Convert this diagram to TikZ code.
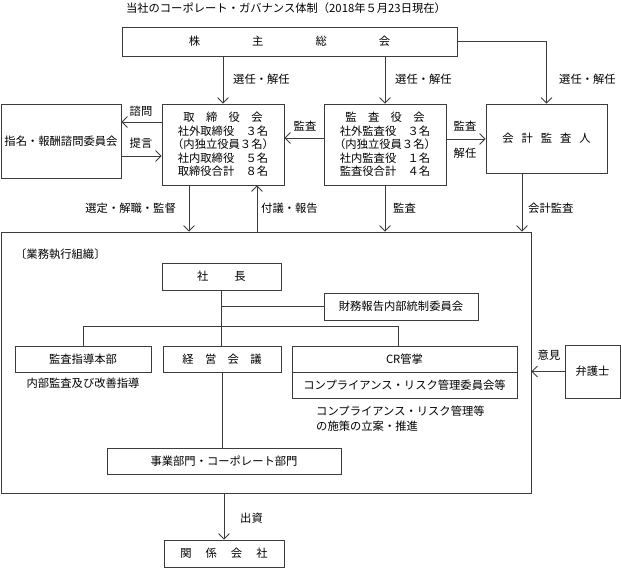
\documentclass[tikz,border=0pt]{standalone}
\usepackage{fontspec}
\setmainfont{Noto Sans CJK JP}
\usetikzlibrary{arrows.meta}
\definecolor{ln}{HTML}{3C3C3C}
\tikzset{
  box/.style={draw=ln, line width=0.8pt, inner sep=0pt, align=center},
  lbl/.style={inner sep=0pt},
  con/.style={draw=ln, line width=0.8pt},
  arr/.style={con, -{Straight Barb[length=5.5pt,width=11pt,line width=0.8pt]}},
}
\begin{document}
\begin{tikzpicture}[x=1pt, y=-1pt, font=\fontsize{11.3}{13.5}\selectfont]
\useasboundingbox (0,0) rectangle (621,568);
% title
\node[lbl] (title) at (286,8) {当社のコーポレート・ガバナンス体制（2018年５月23日現在）};
% top boxes
\node[box, minimum width=335pt, minimum height=29pt] (kabu) at (289.5,41.5) {株\hspace{52pt}主\hspace{52pt}総\hspace{52pt}会};
\node[box, minimum width=120pt, minimum height=74pt] (shimei) at (61,141) {指名・報酬諮問委員会};
\node[box, minimum width=122pt, minimum height=81pt] (tori) at (223,144.5) {取　締　役　会\\社外取締役　３名\\（内独立役員３名）\\社内取締役　５名\\取締役合計　８名};
\node[box, minimum width=122pt, minimum height=81pt] (kansa) at (385,144.5) {監　査　役　会\\社外監査役　３名\\（内独立役員３名）\\社内監査役　１名\\監査役合計　４名};
\node[box, minimum width=121pt, minimum height=69pt] (kaikei) at (546.5,138.5) {会\hspace{8pt}計\hspace{8pt}監\hspace{8pt}査\hspace{8pt}人};
% big box
\node[box, minimum width=530pt, minimum height=261pt] (big) at (266,362.5) {};
\node[lbl, anchor=west] (gyomu) at (15,254) {〔業務執行組織〕};
\node[box, minimum width=119pt, minimum height=27pt] (shacho) at (221.5,276.5) {社\hspace{26pt}長};
\node[box, minimum width=154pt, minimum height=27pt] (zaimu) at (401,306.5) {財務報告内部統制委員会};
\node[box, minimum width=136pt, minimum height=26pt] (kansashido) at (83,359) {監査指導本部};
\node[box, minimum width=118pt, minimum height=26pt] (keiei) at (222,359) {経　営　会　議};
\node[box, minimum width=225pt, minimum height=26pt] (cr1) at (404.5,359) {CR管掌};
\node[box, minimum width=225pt, minimum height=26pt] (cr2) at (404.5,385) {コンプライアンス・リスク管理委員会等};
\node[lbl] (naibu) at (83,383) {内部監査及び改善指導};
\node[lbl, anchor=north west, align=left, font=\fontsize{11.3}{14.5}\selectfont] (comp) at (316,406) {コンプライアンス・リスク管理等\\の施策の立案・推進};
\node[box, minimum width=234pt, minimum height=26pt] (jigyo) at (224,461) {事業部門・コーポレート部門};
\node[box, minimum width=120pt, minimum height=27pt] (kankei) at (224,553.5) {関\hspace{14pt}係\hspace{14pt}会\hspace{14pt}社};
\node[box, minimum width=55pt, minimum height=53pt] (bengo) at (592.5,371.5) {弁護士};
% connectors
\draw[arr] (kabu.south -| tori.north) -- (tori.north);
\draw[arr] (kabu.south -| kansa.north) -- (kansa.north);
\draw[arr] (kabu.east) -| (kaikei.north);
\draw[arr] (tori.west |- 0,122) -- (shimei.east |- 0,122);
\draw[arr] (shimei.east |- 0,156) -- (tori.west |- 0,156);
\draw[arr] (kansa.west |- 0,138) -- (tori.east |- 0,138);
\draw[arr] (kansa.east |- 0,139) -- (kaikei.west |- 0,139);
\draw[arr] (tori.south -| 189,0) -- (big.north -| 189,0);
\draw[arr] (big.north -| 257,0) -- (tori.south -| 257,0);
\draw[arr] (kansa.south) -- (kansa.south |- big.north);
\draw[arr] (kaikei.south -| 522,0) -- (big.north -| 522,0);
\draw[con] (shacho.south) -- (shacho.south |- keiei.north);
\draw[con] (shacho.south |- zaimu.west) -- (zaimu.west);
\draw[con] (kansashido.north) -- (kansashido.north |- 0,326) -| (cr1.north -| 398,0);
\draw[con] (keiei.south) -- (keiei.south |- jigyo.north);
\draw[arr] (big.south -| kankei.north) -- (kankei.north);
\draw[arr] (bengo.west) -- (bengo.west -| big.east);
% labels
\node[lbl, anchor=west] (l1) at (233,79) {選任・解任};
\node[lbl, anchor=west] (l2) at (395,79) {選任・解任};
\node[lbl, anchor=west] (l3) at (559,79) {選任・解任};
\node[lbl] (l4) at (141,111) {諮問};
\node[lbl] (l5) at (141,143) {提言};
\node[lbl] (l6) at (305,126) {監査};
\node[lbl] (l7) at (465,126) {監査};
\node[lbl] (l8) at (465,153) {解任};
\node[lbl, anchor=east] (l9) at (176,208) {選定・解職・監督};
\node[lbl, anchor=west] (l10) at (261,208) {付議・報告};
\node[lbl, anchor=west] (l11) at (393,208) {監査};
\node[lbl, anchor=west] (l12) at (528,208) {会計監査};
\node[lbl] (l13) at (549,355) {意見};
\node[lbl, anchor=west] (l14) at (240,518) {出資};
\end{tikzpicture}
\end{document}
